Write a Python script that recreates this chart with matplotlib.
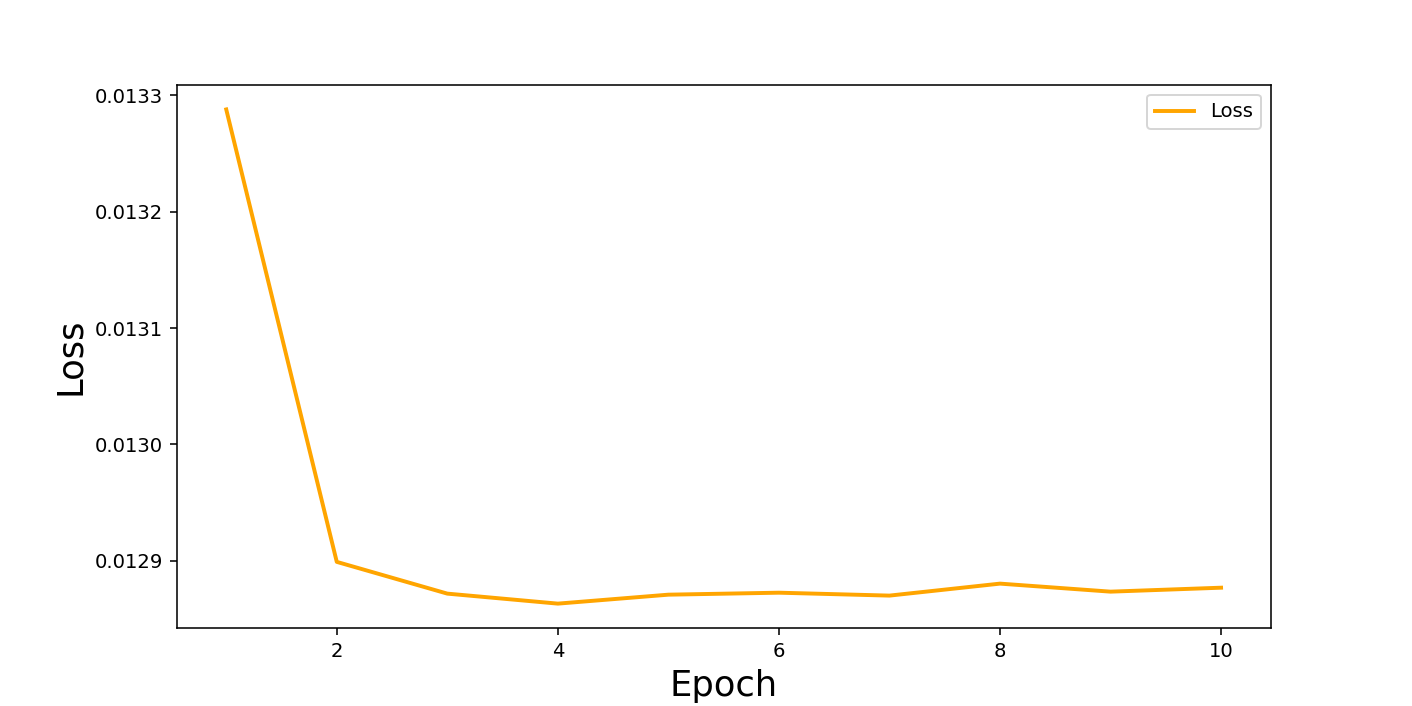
import matplotlib
matplotlib.use('Agg')
import matplotlib.pyplot as plt

# Per-epoch training loss
epochs = [1, 2, 3, 4, 5, 6, 7, 8, 9, 10]
loss = [0.013288, 0.012899, 0.0128717, 0.0128631, 0.0128708,
        0.0128725, 0.01287, 0.0128803, 0.0128734, 0.0128768]

plt.figure(figsize=(10, 5))
plt.plot(epochs, loss, color='orange', linewidth=2, label='Loss')
plt.xlabel('Epoch', fontsize=18)
plt.ylabel('Loss', fontsize=18)
plt.legend()
plt.savefig('out.png', dpi=141.2)
plt.close()
